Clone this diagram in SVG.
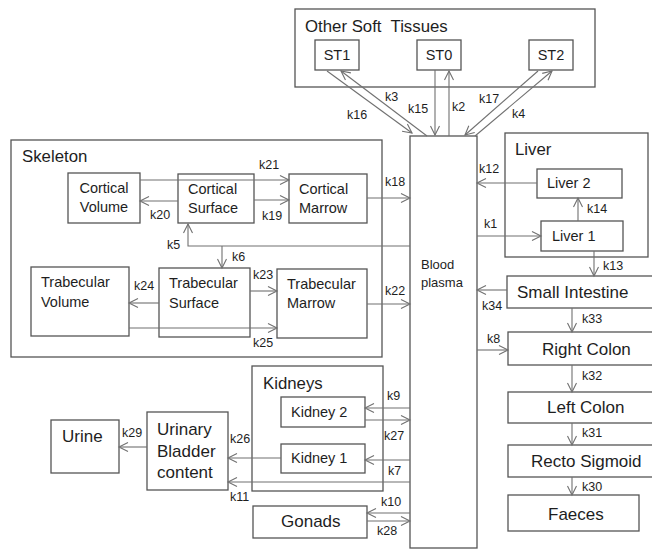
<svg xmlns="http://www.w3.org/2000/svg" width="652" height="552" viewBox="0 0 652 552">
<defs>
<marker id="ah" markerUnits="userSpaceOnUse" markerWidth="12" markerHeight="12" viewBox="0 0 12 12" refX="10" refY="6" orient="auto">
<path d="M1,1.5 L10,6 L1,10.5" fill="none" stroke="#707070" stroke-width="1.1"/>
</marker>
<style>
rect{fill:#fff;stroke:#555;stroke-width:1.3}
.grp{fill:none}
text{font-family:"Liberation Sans",Arial,sans-serif;fill:#1e1e1e}
.t{font-size:16.8px}
.n{font-size:14.5px}
.b{font-size:17px}
.k{font-size:12.5px}
.p{font-size:13px}
#connectors line,#connectors polyline{stroke:#707070;stroke-width:1.1;fill:none;marker-end:url(#ah)}
</style>
</defs>
<rect width="652" height="552" style="fill:#fff;stroke:none"/>

<g id="other-soft-tissues">
<rect class="grp" x="295" y="9" width="300" height="78"/>
<text class="t" x="305" y="32" xml:space="preserve">Other Soft  Tissues</text>
</g>
<g id="st1"><rect x="315" y="40" width="44" height="30"/><text class="n" x="337" y="60" text-anchor="middle">ST1</text></g>
<g id="st0"><rect x="417" y="40" width="44" height="30"/><text class="n" x="439" y="60" text-anchor="middle">ST0</text></g>
<g id="st2"><rect x="529" y="40" width="44" height="30"/><text class="n" x="551" y="60" text-anchor="middle">ST2</text></g>

<g id="skeleton">
<rect class="grp" x="11" y="140" width="371" height="217"/>
<text class="t" x="22" y="162">Skeleton</text>
</g>
<g id="cortical-volume"><rect x="68" y="173" width="72" height="50"/><text class="n" x="104" y="193" text-anchor="middle">Cortical</text><text class="n" x="104" y="212" text-anchor="middle">Volume</text></g>
<g id="cortical-surface"><rect x="178" y="174" width="76" height="49"/><text class="n" x="188" y="194">Cortical</text><text class="n" x="188" y="213">Surface</text></g>
<g id="cortical-marrow"><rect x="289" y="174" width="78" height="49"/><text class="n" x="299" y="194">Cortical</text><text class="n" x="299" y="213">Marrow</text></g>
<g id="trabecular-volume"><rect x="31" y="267" width="98" height="69"/><text class="n" x="41" y="287">Trabecular</text><text class="n" x="41" y="307">Volume</text></g>
<g id="trabecular-surface"><rect x="159" y="268" width="91" height="69"/><text class="n" x="169" y="288">Trabecular</text><text class="n" x="169" y="308">Surface</text></g>
<g id="trabecular-marrow"><rect x="277" y="269" width="90" height="69"/><text class="n" x="287" y="289">Trabecular</text><text class="n" x="287" y="308">Marrow</text></g>

<g id="blood-plasma"><rect x="410" y="136" width="67" height="412"/><text class="p" x="421" y="269">Blood</text><text class="p" x="421" y="287">plasma</text></g>

<g id="liver">
<rect class="grp" x="505" y="133" width="143" height="124"/>
<text class="t" x="515" y="155">Liver</text>
</g>
<g id="liver-2"><rect x="537" y="169" width="85" height="29"/><text class="n" x="547" y="188">Liver 2</text></g>
<g id="liver-1"><rect x="541" y="221" width="82" height="30"/><text class="n" x="552" y="241">Liver 1</text></g>

<g id="small-intestine"><rect x="507" y="276" width="160" height="32"/><text class="b" x="517" y="298">Small Intestine</text></g>
<g id="right-colon"><rect x="508" y="332" width="160" height="33"/><text class="b" x="542" y="355">Right Colon</text></g>
<g id="left-colon"><rect x="508" y="392" width="160" height="31"/><text class="b" x="547" y="413">Left Colon</text></g>
<g id="recto-sigmoid"><rect x="508" y="445" width="160" height="32"/><text class="b" x="531" y="467">Recto Sigmoid</text></g>
<g id="faeces"><rect x="508" y="495" width="131" height="36"/><text class="b" x="548" y="520">Faeces</text></g>

<g id="kidneys">
<rect class="grp" x="252" y="366" width="131" height="125"/>
<text class="t" x="263" y="389">Kidneys</text>
</g>
<g id="kidney-2"><rect x="281" y="397" width="84" height="30"/><text class="n" x="291" y="417">Kidney 2</text></g>
<g id="kidney-1"><rect x="281" y="444" width="84" height="29"/><text class="n" x="291" y="463">Kidney 1</text></g>
<g id="urinary-bladder"><rect x="147" y="412" width="81" height="78"/><text class="b" x="157" y="435">Urinary</text><text class="b" x="157" y="457">Bladder</text><text class="b" x="157" y="478">content</text></g>
<g id="urine"><rect x="51" y="420" width="68" height="53"/><text class="b" x="62" y="442">Urine</text></g>
<g id="gonads"><rect x="253" y="506" width="114" height="32"/><text class="b" x="281" y="527">Gonads</text></g>

<g id="connectors">
<line x1="327" y1="71" x2="412" y2="133"/>
<line x1="427" y1="136" x2="341" y2="71"/>
<line x1="435" y1="70" x2="435" y2="135"/>
<line x1="449" y1="136" x2="449" y2="71"/>
<line x1="538" y1="71" x2="465" y2="135"/>
<line x1="475" y1="136" x2="552" y2="71"/>
<line x1="140" y1="180" x2="289" y2="180"/>
<line x1="178" y1="201" x2="140" y2="201"/>
<line x1="254" y1="200" x2="289" y2="200"/>
<line x1="367" y1="198" x2="410" y2="198"/>
<polyline points="410,246 188,246 188,224"/>
<line x1="222" y1="246" x2="222" y2="268"/>
<line x1="159" y1="303" x2="129" y2="303"/>
<line x1="129" y1="328" x2="277" y2="328"/>
<line x1="250" y1="291" x2="277" y2="291"/>
<line x1="367" y1="304" x2="410" y2="304"/>
<line x1="537" y1="183" x2="477" y2="183"/>
<line x1="578" y1="221" x2="578" y2="198"/>
<line x1="477" y1="236" x2="541" y2="236"/>
<line x1="594" y1="251" x2="594" y2="276"/>
<line x1="507" y1="290" x2="477" y2="290"/>
<line x1="572" y1="308" x2="572" y2="332"/>
<line x1="477" y1="350" x2="508" y2="350"/>
<line x1="572" y1="365" x2="572" y2="392"/>
<line x1="572" y1="423" x2="572" y2="445"/>
<line x1="572" y1="477" x2="572" y2="495"/>
<line x1="410" y1="408" x2="365" y2="408"/>
<line x1="365" y1="420" x2="410" y2="420"/>
<line x1="410" y1="460" x2="365" y2="460"/>
<line x1="281" y1="458" x2="228" y2="458"/>
<line x1="410" y1="482" x2="228" y2="482"/>
<line x1="147" y1="447" x2="119" y2="447"/>
<line x1="410" y1="513" x2="367" y2="513"/>
<line x1="367" y1="521" x2="410" y2="521"/>
</g>

<g id="labels">
<text class="k" x="347" y="119">k16</text>
<text class="k" x="385" y="101">k3</text>
<text class="k" x="408" y="113">k15</text>
<text class="k" x="452" y="111">k2</text>
<text class="k" x="479" y="103">k17</text>
<text class="k" x="512" y="118">k4</text>
<text class="k" x="259" y="169">k21</text>
<text class="k" x="150" y="219">k20</text>
<text class="k" x="262" y="220">k19</text>
<text class="k" x="385" y="186">k18</text>
<text class="k" x="167" y="249">k5</text>
<text class="k" x="232" y="261">k6</text>
<text class="k" x="134" y="290">k24</text>
<text class="k" x="253" y="347">k25</text>
<text class="k" x="253" y="279">k23</text>
<text class="k" x="385" y="295">k22</text>
<text class="k" x="479" y="173">k12</text>
<text class="k" x="587" y="213">k14</text>
<text class="k" x="484" y="228">k1</text>
<text class="k" x="603" y="270">k13</text>
<text class="k" x="482" y="310">k34</text>
<text class="k" x="582" y="323">k33</text>
<text class="k" x="487" y="343">k8</text>
<text class="k" x="582" y="380">k32</text>
<text class="k" x="582" y="437">k31</text>
<text class="k" x="582" y="491">k30</text>
<text class="k" x="387" y="400">k9</text>
<text class="k" x="384" y="440">k27</text>
<text class="k" x="388" y="475">k7</text>
<text class="k" x="230" y="443">k26</text>
<text class="k" x="230" y="501">k11</text>
<text class="k" x="122" y="437">k29</text>
<text class="k" x="381" y="506">k10</text>
<text class="k" x="377" y="535">k28</text>
</g>
</svg>
